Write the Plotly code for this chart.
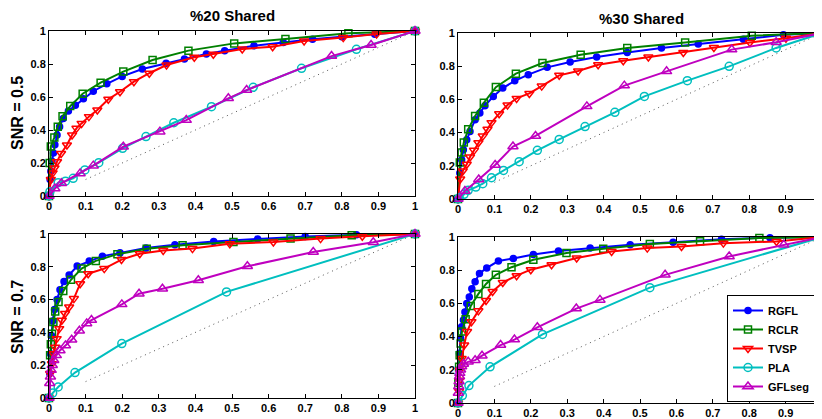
import plotly.graph_objects as go

series_names = ["RGFL", "RCLR", "TVSP", "PLA", "GFLseg"]
series_colors = ["#0000FF", "#008000", "#FF0000", "#00BFBF", "#BF00BF"]
series_symbols = ["circle", "square-open", "triangle-down-open", "circle-open", "triangle-up-open"]
series_sizes = [6, 7, 8, 8, 9]

col_titles = ["%20 Shared", "%30 Shared"]
row_titles = ["SNR = 0.5", "SNR = 0.7"]
x_ticks = [0, 0.1, 0.2, 0.3, 0.4, 0.5, 0.6, 0.7, 0.8, 0.9, 1]
x_tick_labels = ["0", "0.1", "0.2", "0.3", "0.4", "0.5", "0.6", "0.7", "0.8", "0.9", "1"]
y_ticks = [0, 0.2, 0.4, 0.6, 0.8, 1]
y_tick_labels = ["0", "0.2", "0.4", "0.6", "0.8", "1"]
chance_x = [0.1, 1]
chance_y = [0.1, 1]

# ---- Top-left: %20 Shared, SNR = 0.5 ----
tl_rgfl_x = [0, 0.003, 0.005, 0.008, 0.012, 0.016, 0.022, 0.029, 0.039, 0.053, 0.072, 0.094, 0.121, 0.158, 0.2, 0.255, 0.32, 0.37, 0.43, 0.48, 0.56, 0.64, 0.72, 0.8, 0.89, 1]
tl_rgfl_y = [0, 0.1, 0.15, 0.21, 0.26, 0.31, 0.37, 0.42, 0.47, 0.515, 0.55, 0.59, 0.635, 0.68, 0.725, 0.77, 0.805, 0.83, 0.86, 0.88, 0.91, 0.93, 0.95, 0.965, 0.98, 1]
tl_rclr_x = [0, 0.002, 0.005, 0.0146, 0.024, 0.037, 0.058, 0.092, 0.141, 0.203, 0.283, 0.381, 0.506, 0.646, 0.818, 1]
tl_rclr_y = [0, 0.2, 0.3, 0.355, 0.42, 0.483, 0.545, 0.62, 0.687, 0.754, 0.824, 0.881, 0.925, 0.952, 0.986, 1]
tl_tvsp_x = [0, 0.005, 0.01, 0.015, 0.022, 0.033, 0.049, 0.063, 0.075, 0.089, 0.109, 0.132, 0.162, 0.194, 0.232, 0.274, 0.321, 0.397, 0.449, 0.528, 0.611, 0.697, 0.804, 0.895, 1]
tl_tvsp_y = [0, 0.1, 0.14, 0.17, 0.208, 0.258, 0.309, 0.37, 0.41, 0.44, 0.481, 0.521, 0.586, 0.632, 0.693, 0.744, 0.794, 0.841, 0.859, 0.891, 0.905, 0.94, 0.96, 0.982, 1]
tl_pla_x = [0, 0.0026, 0.025, 0.045, 0.066, 0.098, 0.136, 0.201, 0.265, 0.341, 0.444, 0.558, 0.69, 0.84, 1]
tl_pla_y = [0, 0.026, 0.081, 0.09, 0.107, 0.158, 0.202, 0.289, 0.36, 0.444, 0.541, 0.659, 0.774, 0.889, 1]
tl_gfl_x = [0, 0.016, 0.034, 0.085, 0.121, 0.203, 0.303, 0.375, 0.49, 0.54, 0.772, 0.88, 1]
tl_gfl_y = [0, 0.045, 0.077, 0.137, 0.184, 0.299, 0.39, 0.46, 0.592, 0.642, 0.848, 0.915, 1]

# ---- Top-right: %30 Shared, SNR = 0.5 ----
tr_rgfl_x = [0, 0.005, 0.01, 0.0147, 0.024, 0.033, 0.047, 0.06, 0.074, 0.097, 0.123, 0.156, 0.193, 0.245, 0.308, 0.381, 0.465, 0.559, 0.66, 0.784, 0.894, 1]
tr_rgfl_y = [0, 0.157, 0.237, 0.297, 0.357, 0.407, 0.478, 0.518, 0.562, 0.618, 0.668, 0.712, 0.749, 0.793, 0.825, 0.855, 0.883, 0.909, 0.933, 0.963, 0.989, 1]
tr_rclr_x = [0, 0.005, 0.01, 0.016, 0.028, 0.047, 0.071, 0.104, 0.159, 0.232, 0.337, 0.465, 0.624, 0.807, 1]
tr_rclr_y = [0, 0.22, 0.28, 0.34, 0.42, 0.5, 0.58, 0.674, 0.755, 0.819, 0.869, 0.909, 0.943, 0.984, 1]
tr_tvsp_x = [0, 0.006, 0.013, 0.024, 0.033, 0.044, 0.056, 0.068, 0.081, 0.092, 0.113, 0.136, 0.161, 0.196, 0.23, 0.278, 0.33, 0.385, 0.454, 0.523, 0.619, 0.703, 0.802, 0.901, 1]
tr_tvsp_y = [0, 0.12, 0.169, 0.209, 0.253, 0.293, 0.339, 0.379, 0.42, 0.46, 0.514, 0.566, 0.606, 0.636, 0.68, 0.745, 0.771, 0.809, 0.833, 0.855, 0.883, 0.913, 0.943, 0.969, 1]
tr_pla_x = [0, 0.0035, 0.0165, 0.028, 0.049, 0.068, 0.092, 0.125, 0.168, 0.218, 0.278, 0.349, 0.431, 0.512, 0.63, 0.745, 0.874, 1]
tr_pla_y = [0, 0.008, 0.028, 0.052, 0.072, 0.092, 0.128, 0.172, 0.225, 0.293, 0.359, 0.436, 0.522, 0.618, 0.713, 0.799, 0.91, 1]
tr_gfl_x = [0, 0.019, 0.057, 0.102, 0.151, 0.213, 0.354, 0.457, 0.573, 0.752, 0.874, 1]
tr_gfl_y = [0, 0.048, 0.117, 0.205, 0.316, 0.38, 0.558, 0.683, 0.769, 0.9, 0.944, 1]

# ---- Bottom-left: %20 Shared, SNR = 0.7 ----
bl_rgfl_x = [0, 0.002, 0.004, 0.007, 0.01, 0.015, 0.022, 0.03, 0.041, 0.055, 0.077, 0.11, 0.146, 0.194, 0.265, 0.344, 0.45, 0.57, 0.7, 0.84, 1]
bl_rgfl_y = [0, 0.15, 0.27, 0.38, 0.47, 0.54, 0.6, 0.66, 0.71, 0.75, 0.805, 0.835, 0.865, 0.885, 0.915, 0.935, 0.955, 0.97, 0.985, 0.995, 1]
bl_rclr_x = [0, 0.003, 0.005, 0.008, 0.012, 0.017, 0.026, 0.039, 0.06, 0.089, 0.128, 0.187, 0.267, 0.365, 0.504, 0.66, 0.827, 1]
bl_rclr_y = [0, 0.26, 0.327, 0.392, 0.463, 0.528, 0.585, 0.652, 0.721, 0.789, 0.836, 0.877, 0.91, 0.931, 0.951, 0.972, 0.992, 1]
bl_tvsp_x = [0, 0.003, 0.008, 0.012, 0.017, 0.021, 0.028, 0.035, 0.044, 0.055, 0.068, 0.085, 0.107, 0.151, 0.198, 0.248, 0.312, 0.392, 0.494, 0.613, 0.742, 0.856, 1]
bl_tvsp_y = [0, 0.149, 0.209, 0.27, 0.31, 0.362, 0.423, 0.474, 0.515, 0.555, 0.606, 0.697, 0.758, 0.789, 0.844, 0.88, 0.9, 0.911, 0.941, 0.951, 0.972, 0.986, 1]
bl_pla_x = [0, 0.01, 0.025, 0.071, 0.199, 0.485, 1]
bl_pla_y = [0, 0.03, 0.067, 0.155, 0.332, 0.647, 1]
bl_gfl_x = [0, 0.002, 0.004, 0.006, 0.009, 0.013, 0.02, 0.03, 0.045, 0.062, 0.083, 0.103, 0.116, 0.199, 0.246, 0.31, 0.408, 0.542, 0.722, 0.886, 1]
bl_gfl_y = [0, 0.09, 0.13, 0.17, 0.2, 0.23, 0.26, 0.29, 0.32, 0.355, 0.41, 0.455, 0.475, 0.571, 0.636, 0.666, 0.718, 0.803, 0.89, 0.95, 1]

# ---- Bottom-right: %30 Shared, SNR = 0.7 ----
br_rgfl_x = [0, 0.002, 0.004, 0.007, 0.01, 0.015, 0.019, 0.024, 0.031, 0.038, 0.047, 0.059, 0.079, 0.111, 0.152, 0.207, 0.276, 0.363, 0.473, 0.591, 0.724, 0.857, 1]
br_rgfl_y = [0, 0.2, 0.3, 0.39, 0.46, 0.5, 0.548, 0.599, 0.639, 0.689, 0.73, 0.78, 0.814, 0.855, 0.871, 0.895, 0.915, 0.933, 0.953, 0.969, 0.987, 0.996, 1]
br_rclr_x = [0, 0.001, 0.003, 0.0045, 0.0073, 0.0108, 0.021, 0.035, 0.056, 0.077, 0.104, 0.147, 0.207, 0.298, 0.399, 0.527, 0.665, 0.828, 1]
br_rclr_y = [0, 0.12, 0.218, 0.288, 0.359, 0.43, 0.504, 0.584, 0.657, 0.717, 0.772, 0.818, 0.863, 0.903, 0.929, 0.958, 0.974, 0.994, 1]
br_tvsp_x = [0, 0.003, 0.004, 0.005, 0.01, 0.017, 0.025, 0.037, 0.056, 0.077, 0.095, 0.123, 0.161, 0.2, 0.257, 0.326, 0.422, 0.52, 0.614, 0.729, 0.875, 1]
br_tvsp_y = [0, 0.07, 0.137, 0.198, 0.268, 0.349, 0.43, 0.49, 0.555, 0.617, 0.672, 0.726, 0.767, 0.803, 0.833, 0.873, 0.913, 0.933, 0.943, 0.963, 0.973, 1]
br_pla_x = [0, 0.012, 0.03, 0.088, 0.232, 0.527, 1]
br_pla_y = [0, 0.045, 0.105, 0.218, 0.413, 0.695, 1]
br_gfl_x = [0, 0.001, 0.002, 0.003, 0.004, 0.005, 0.007, 0.01, 0.015, 0.028, 0.047, 0.066, 0.117, 0.155, 0.218, 0.325, 0.39, 0.569, 0.745, 0.895, 1]
br_gfl_y = [0, 0.06, 0.1, 0.13, 0.16, 0.18, 0.2, 0.22, 0.235, 0.248, 0.258, 0.285, 0.349, 0.382, 0.456, 0.569, 0.621, 0.772, 0.883, 0.953, 1]

# The page body has an 8px margin, so the figure is sized and laid out
# in screen pixels minus that offset.
OFF = 8
W, H = 822 - OFF, 419 - OFF


def px(v):
    return (v - OFF) / W


def py(v):
    return 1 - (v - OFF) / H


panels = [
    # (xaxis, yaxis, data list, x domain, y domain, show legend, show tick "1")
    ("x", "y", [(tl_rgfl_x, tl_rgfl_y), (tl_rclr_x, tl_rclr_y), (tl_tvsp_x, tl_tvsp_y), (tl_pla_x, tl_pla_y), (tl_gfl_x, tl_gfl_y)],
     [px(49), px(415)], [py(196), py(31)], False, True),
    ("x2", "y2", [(tr_rgfl_x, tr_rgfl_y), (tr_rclr_x, tr_rclr_y), (tr_tvsp_x, tr_tvsp_y), (tr_pla_x, tr_pla_y), (tr_gfl_x, tr_gfl_y)],
     [px(458), 1.0], [py(199), py(33)], False, False),
    ("x3", "y3", [(bl_rgfl_x, bl_rgfl_y), (bl_rclr_x, bl_rclr_y), (bl_tvsp_x, bl_tvsp_y), (bl_pla_x, bl_pla_y), (bl_gfl_x, bl_gfl_y)],
     [px(49), px(415)], [py(398), py(234)], False, True),
    ("x4", "y4", [(br_rgfl_x, br_rgfl_y), (br_rclr_x, br_rclr_y), (br_tvsp_x, br_tvsp_y), (br_pla_x, br_pla_y), (br_gfl_x, br_gfl_y)],
     [px(458), 1.0], [py(403), py(237)], True, False),
]

fig = go.Figure()
tick_font = dict(family="Liberation Sans", size=11, color="black", weight="bold")

layout_axes = {}
for pi, (xa, ya, data, xdom, ydom, show_leg, show_one) in enumerate(panels):
    # chance diagonal
    fig.add_trace(go.Scatter(x=chance_x, y=chance_y, mode="lines", xaxis=xa, yaxis=ya,
                             line=dict(color="#555555", width=1, dash="1px,4px"),
                             showlegend=False, hoverinfo="skip"))
    for si, (sx, sy) in enumerate(data):
        fig.add_trace(go.Scatter(
            x=sx, y=sy, mode="lines+markers", name=series_names[si],
            xaxis=xa, yaxis=ya, showlegend=show_leg, cliponaxis=False,
            line=dict(color=series_colors[si], width=2),
            marker=dict(symbol=series_symbols[si], size=series_sizes[si],
                        color=series_colors[si], line=dict(color=series_colors[si], width=1.5)),
        ))
    xkey = "xaxis" + ("" if pi == 0 else str(pi + 1))
    ykey = "yaxis" + ("" if pi == 0 else str(pi + 1))
    tv = x_ticks if show_one else x_ticks[:-1]
    tt = x_tick_labels if show_one else x_tick_labels[:-1]
    layout_axes[xkey] = dict(domain=xdom, range=[0, 1], anchor=ya, tickvals=tv, ticktext=tt,
                             ticks="inside", ticklen=4, tickcolor="black", showline=True,
                             linecolor="black", linewidth=1, mirror="ticks", showgrid=False,
                             zeroline=False, tickfont=tick_font, automargin=False)
    layout_axes[ykey] = dict(domain=ydom, range=[0, 1], anchor=xa, tickvals=y_ticks, ticktext=y_tick_labels,
                             ticks="inside", ticklen=4, tickcolor="black", showline=True,
                             linecolor="black", linewidth=1, mirror="ticks", showgrid=False,
                             zeroline=False, tickfont=tick_font, automargin=False)

title_font = dict(family="Liberation Sans", size=15, color="black", weight="bold")
ytitle_font = dict(family="Liberation Sans", size=16, color="black", weight="bold")
annotations = [
    dict(text=col_titles[0], x=px(232), y=py(16), xref="paper", yref="paper",
         showarrow=False, font=title_font, xanchor="center", yanchor="middle"),
    dict(text=col_titles[1], x=px(641), y=py(19), xref="paper", yref="paper",
         showarrow=False, font=title_font, xanchor="center", yanchor="middle"),
    dict(text=row_titles[0], x=px(17), y=py(113), xref="paper", yref="paper",
         showarrow=False, font=ytitle_font, textangle=-90, xanchor="center", yanchor="middle"),
    dict(text=row_titles[1], x=px(17), y=py(317), xref="paper", yref="paper",
         showarrow=False, font=ytitle_font, textangle=-90, xanchor="center", yanchor="middle"),
]

fig.update_layout(
    width=W, height=H,
    margin=dict(l=0, r=0, t=0, b=0),
    paper_bgcolor="white", plot_bgcolor="white",
    annotations=annotations,
    legend=dict(x=px(727), y=py(295), xanchor="left", yanchor="top",
                bordercolor="black", borderwidth=1, bgcolor="white",
                font=dict(family="Liberation Sans", size=11, color="black", weight="bold"),
                tracegroupgap=0, itemwidth=30),
    **layout_axes,
)

fig.write_html("out.html")
